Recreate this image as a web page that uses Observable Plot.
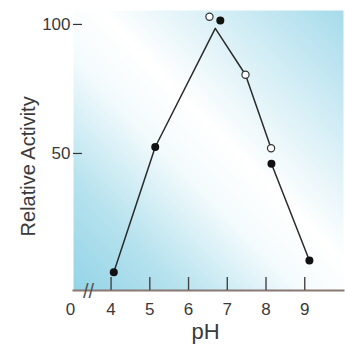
<!DOCTYPE html>
<html>
<head>
<meta charset="utf-8">
<script src="https://cdn.jsdelivr.net/npm/d3@7"></script>
<script src="https://cdn.jsdelivr.net/npm/@observablehq/plot@0.6"></script>
<style>
  html, body { margin: 0; padding: 0; background: #fff; }
  #chart svg { display: block; }
</style>
</head>
<body>
<div id="chart"></div>
<script>
// ---- data ----
const xTicks = [4, 5, 6, 7, 8, 9];
const yTicks = [50, 100];
const zeroLabel = "0";

// filled circles
const filledPH = [4.07, 5.14, 6.82, 8.14, 9.12];
const filledAct = [4, 52.5, 101.5, 46, 8.5];
// open circles
const openPH = [6.54, 7.47, 8.13];
const openAct = [103, 80.5, 52];
// connecting curve (upper part ends at open circle at pH 8.1)
const curveAPH = [4.07, 5.14, 6.69, 7.47, 8.13];
const curveAAct = [4, 52.5, 98.5, 80.5, 52];
// lower-right segment from the filled circle at pH 8.1
const curveBPH = [8.14, 9.12];
const curveBAct = [46, 8.5];

const xDomain = [3.03, 10];
const yDomain = [-3.1, 105.4];
const breakPH = 3.42;

const filled = filledPH.map((x, i) => ({x, y: filledAct[i]}));
const open = openPH.map((x, i) => ({x, y: openAct[i]}));
const curveA = curveAPH.map((x, i) => ({x, y: curveAAct[i]}));
const curveB = curveBPH.map((x, i) => ({x, y: curveBAct[i]}));

const defs = () => {
  const ns = "http://www.w3.org/2000/svg";
  const d = document.createElementNS(ns, "defs");
  d.innerHTML = `
    <linearGradient id="bg" x1="0" y1="1" x2="1" y2="0">
      <stop offset="0" stop-color="#93d4e7"/>
      <stop offset="0.2" stop-color="#b6e2ee"/>
      <stop offset="0.42" stop-color="#f4fbfd"/>
      <stop offset="0.55" stop-color="#ffffff"/>
      <stop offset="0.78" stop-color="#d2edf5"/>
      <stop offset="1" stop-color="#a6dbea"/>
    </linearGradient>`;
  return d;
};

const font = "'Liberation Sans', Arial, Helvetica, sans-serif";

const chart = Plot.plot({
  width: 345,
  height: 349,
  marginLeft: 73,
  marginRight: 2,
  marginTop: 10,
  marginBottom: 59,
  x: {domain: xDomain},
  y: {domain: yDomain},
  style: {fontFamily: font, background: "#fff", color: "#333", fontSize: "17px"},
  marks: [
    defs,
    Plot.frame({fill: "url(#bg)", stroke: "none"}),
    Plot.frame({anchor: "bottom", stroke: "#8a7874", strokeWidth: 2}),
    // inward x ticks
    Plot.axisX({ticks: xTicks, tickSize: -13, tickFormat: () => "", label: null, stroke: "#444", strokeWidth: 1.4}),
    // x tick labels
    Plot.text(xTicks, {x: d => d, y: () => yDomain[0], text: d => String(d), dy: 19, fontSize: 17, fill: "#3a3a3a"}),
    Plot.text([zeroLabel], {x: () => xDomain[0], y: () => yDomain[0], text: d => d, dx: -3, dy: 19, fontSize: 17, fill: "#3a3a3a"}),
    // axis break
    Plot.text(["//"], {x: () => breakPH, y: () => yDomain[0], text: d => d, fontSize: 20, fill: "#555", dy: 1}),
    // y tick dashes and labels
    Plot.axisY({ticks: yTicks, tickSize: -9, tickFormat: () => "", label: null, stroke: "#333", strokeWidth: 1.2}),
    Plot.text(yTicks, {x: () => xDomain[0], y: d => d, text: d => String(d), textAnchor: "end", dx: -3, fontSize: 17, fill: "#3a3a3a"}),
    // titles
    Plot.text(["Relative Activity"], {x: () => xDomain[0], y: () => 45, text: d => d, rotate: -90, dx: -45, fontSize: 20, fill: "#3a3a3a"}),
    Plot.text(["pH"], {frameAnchor: "bottom", text: d => d, dx: -3, dy: 48, fontSize: 22, fill: "#3a3a3a"}),
    // data
    Plot.line(curveA, {x: "x", y: "y", stroke: "#2b2b2b", strokeWidth: 1.5}),
    Plot.line(curveB, {x: "x", y: "y", stroke: "#2b2b2b", strokeWidth: 1.5}),
    Plot.dot(open, {x: "x", y: "y", r: 3.6, fill: "#fff", stroke: "#333", strokeWidth: 1.2}),
    Plot.dot(filled, {x: "x", y: "y", r: 4, fill: "#111", stroke: "none"})
  ]
});

document.getElementById("chart").appendChild(chart);
</script>
</body>
</html>
